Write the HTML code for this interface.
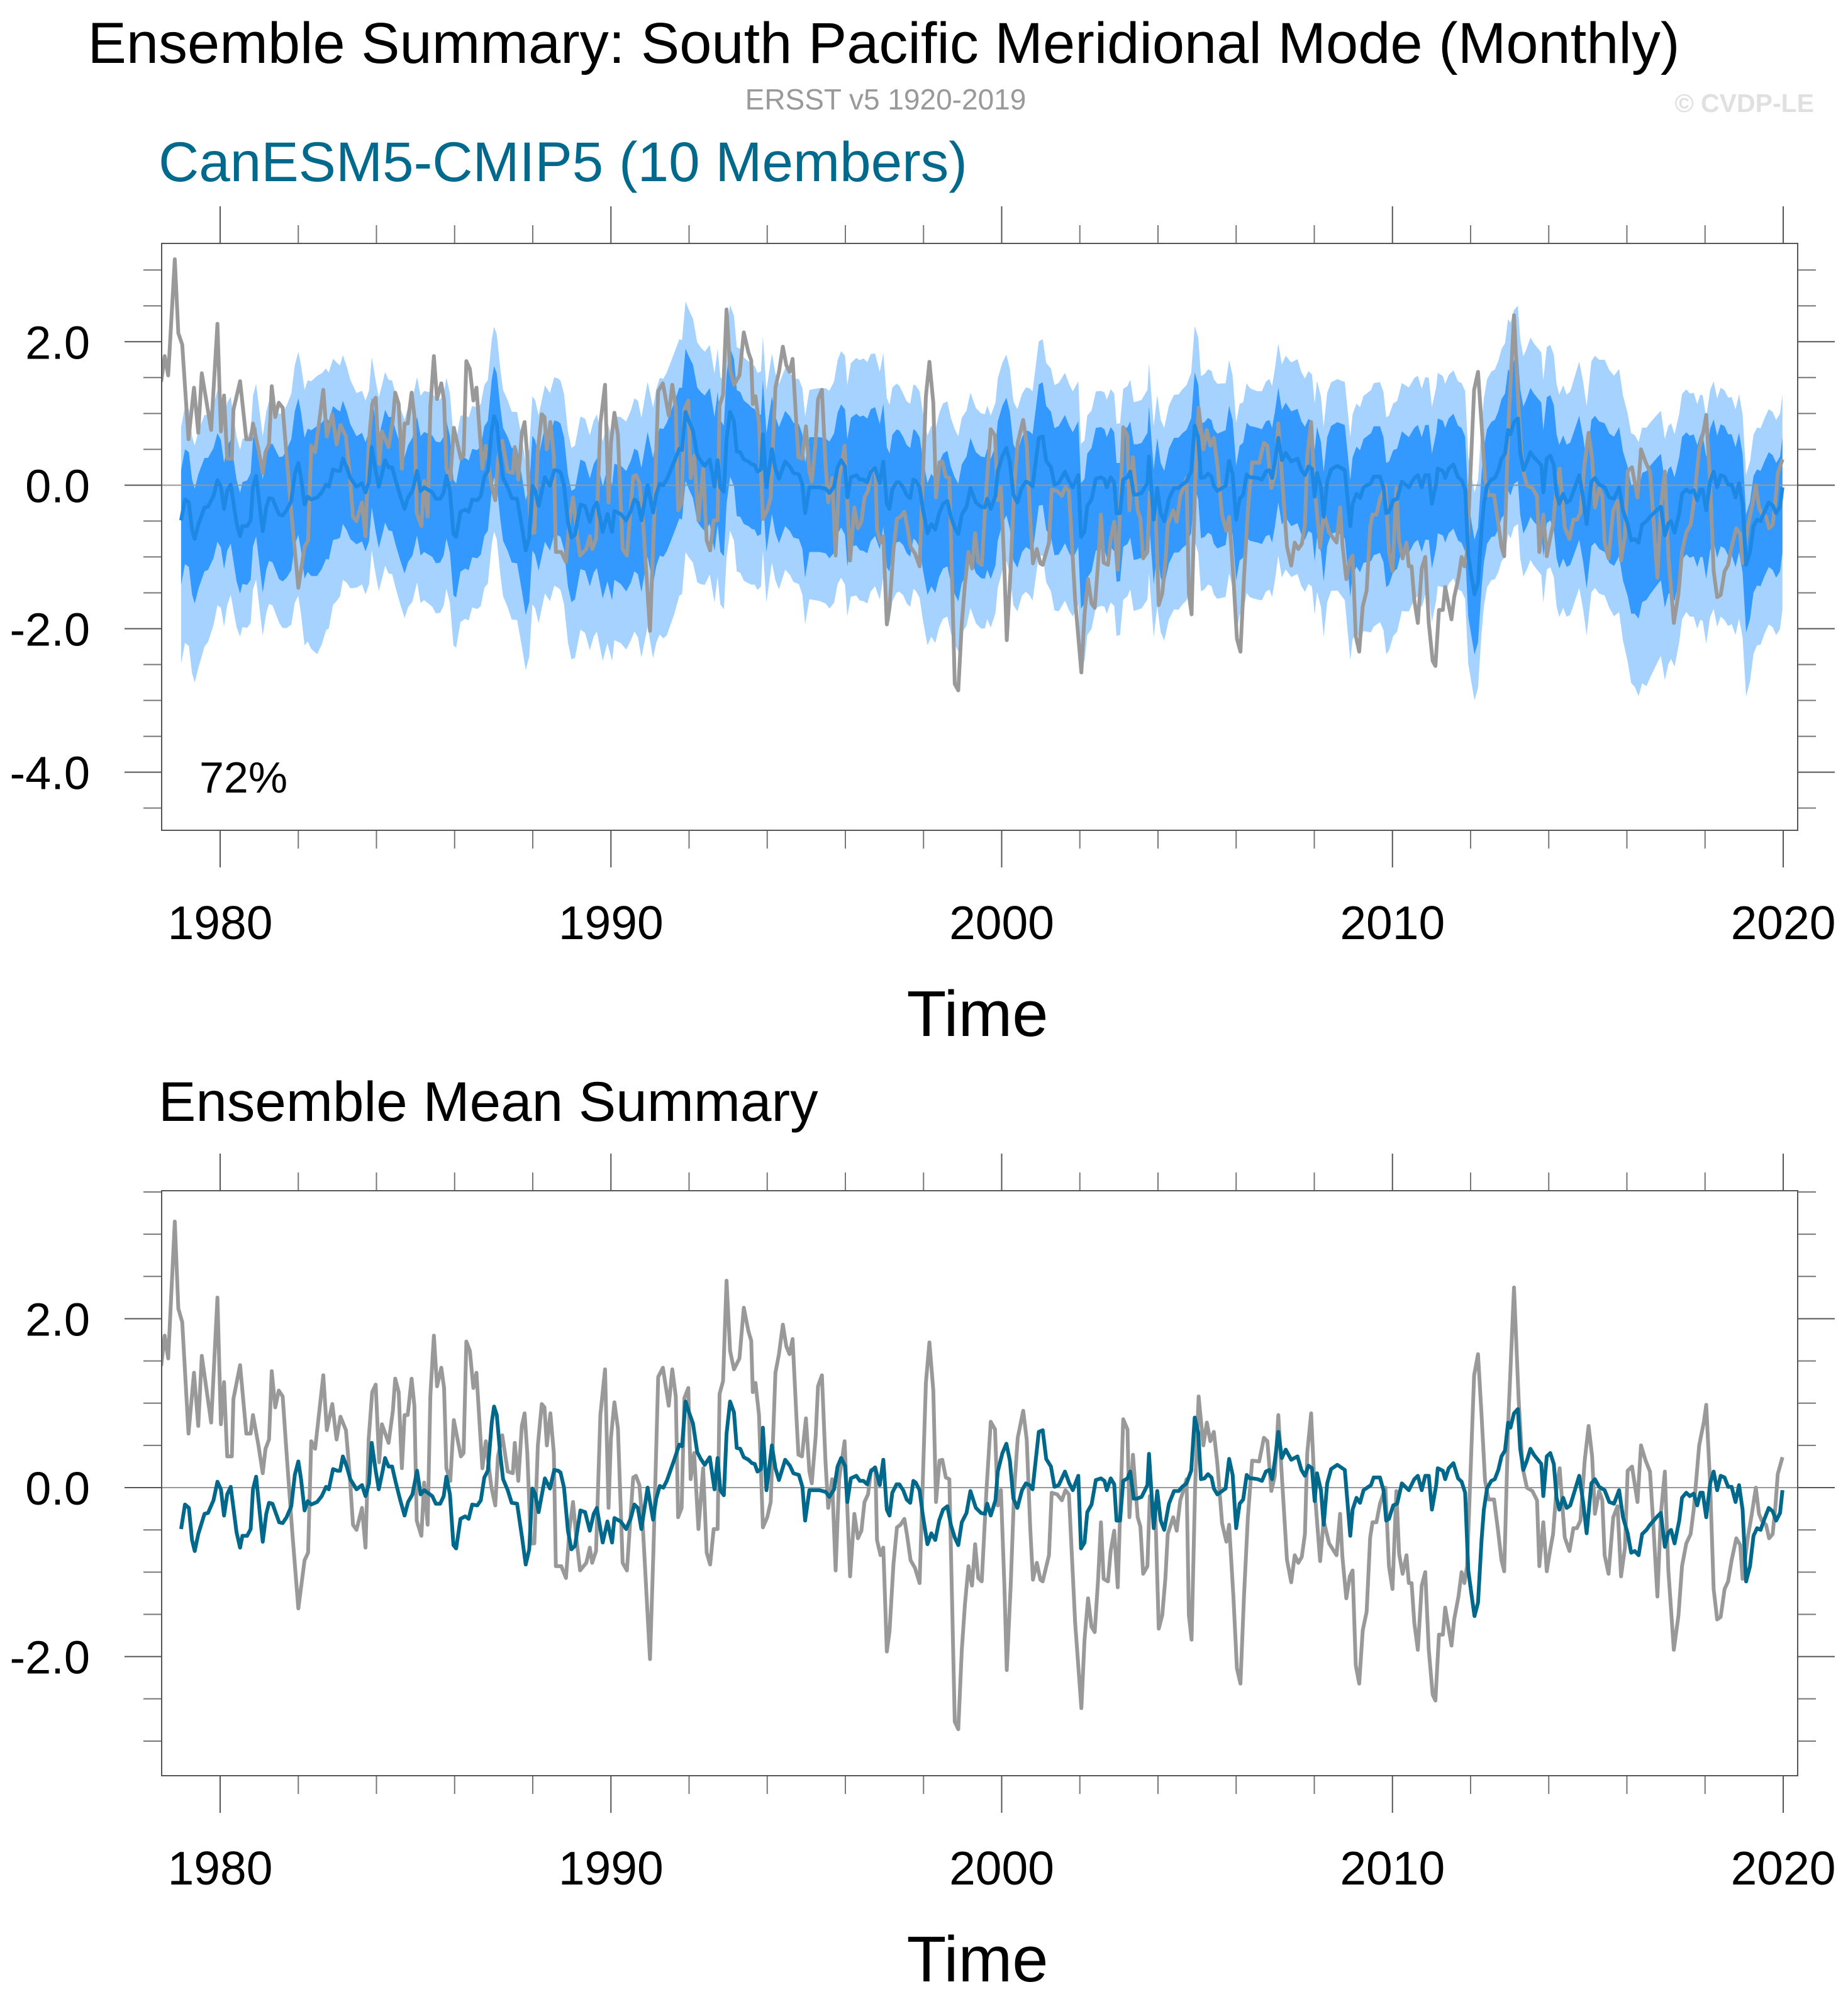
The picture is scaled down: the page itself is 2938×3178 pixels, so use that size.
<!DOCTYPE html>
<html><head><meta charset="utf-8"><title>Ensemble Summary: South Pacific Meridional Mode</title>
<style>
html,body{margin:0;padding:0;background:#fff;}
body{width:2938px;height:3173px;overflow:hidden;font-family:"Liberation Sans",Arial,sans-serif;}
svg text{font-family:"Liberation Sans",Arial,sans-serif;}
</style></head>
<body>
<svg id="chart" width="2938" height="3173" viewBox="0 0 2938 3173" xmlns="http://www.w3.org/2000/svg">
<rect x="0" y="0" width="2938" height="3173" fill="#fff"/>
<text x="1405" y="100" font-size="92" text-anchor="middle" fill="#000">Ensemble Summary: South Pacific Meridional Mode (Monthly)</text>
<text x="1408" y="174" font-size="46" text-anchor="middle" fill="#999">ERSST v5 1920-2019</text>
<text x="2884" y="178" font-size="41" font-weight="bold" text-anchor="end" fill="#e0e0e0">© CVDP-LE</text>
<text x="252" y="288" font-size="89" fill="#00698c">CanESM5-CMIP5 (10 Members)</text>
<text x="252" y="1782" font-size="89" fill="#000">Ensemble Mean Summary</text>
<g id="top"></g>
<g id="bot"></g>
</svg>
<script>
// ---- observed (ERSST) SPMM index ----
const obsYears = [1978.49,1978.58,1978.67,1978.84,1978.93,1979.03,1979.19,1979.33,1979.44,1979.53,1979.77,1979.93,1980.02,1980.1,1980.18,1980.3,1980.34,1980.51,1980.67,1980.78,1980.84,1980.98,1981.09,1981.16,1981.25,1981.32,1981.41,1981.5,1981.6,1981.7,1981.84,1982.0,1982.16,1982.25,1982.33,1982.43,1982.64,1982.73,1982.87,1982.98,1983.08,1983.22,1983.31,1983.4,1983.49,1983.63,1983.72,1983.8,1983.89,1983.98,1984.07,1984.14,1984.31,1984.42,1984.48,1984.57,1984.65,1984.72,1984.8,1984.9,1984.97,1985.03,1985.15,1985.22,1985.31,1985.38,1985.47,1985.55,1985.66,1985.73,1985.79,1985.89,1985.98,1986.16,1986.23,1986.3,1986.39,1986.48,1986.56,1986.65,1986.71,1986.8,1986.94,1987.04,1987.11,1987.22,1987.36,1987.49,1987.54,1987.63,1987.72,1987.79,1987.86,1987.95,1988.04,1988.13,1988.23,1988.3,1988.36,1988.45,1988.54,1988.59,1988.73,1988.85,1988.94,1989.03,1989.12,1989.21,1989.37,1989.46,1989.52,1989.62,1989.73,1989.85,1989.94,1990.0,1990.09,1990.18,1990.3,1990.41,1990.48,1990.57,1990.64,1990.73,1990.82,1991.0,1991.09,1991.21,1991.33,1991.48,1991.57,1991.66,1991.72,1991.81,1991.88,1991.98,1992.04,1992.13,1992.24,1992.36,1992.45,1992.54,1992.63,
1992.73,1992.78,1992.87,1992.96,1993.05,1993.15,1993.29,1993.4,1993.52,1993.59,1993.63,1993.7,1993.79,1993.89,1994.0,1994.09,1994.21,1994.3,1994.4,1994.49,1994.57,1994.65,1994.75,1994.8,1994.89,1994.99,1995.08,1995.14,1995.24,1995.3,1995.4,1995.49,1995.56,1995.66,1995.75,1995.84,1995.98,1996.12,1996.23,1996.32,1996.41,1996.49,1996.58,1996.66,1996.77,1996.81,1996.9,1996.97,1997.06,1997.13,1997.23,1997.32,1997.41,1997.51,1997.58,1997.67,1997.78,1997.9,1998.06,1998.15,1998.25,1998.32,1998.41,1998.48,1998.57,1998.66,1998.8,1998.89,1998.98,1999.06,1999.15,1999.24,1999.32,1999.4,1999.49,1999.61,1999.72,1999.83,1999.9,1999.98,2000.07,2000.13,2000.23,2000.32,2000.41,2000.55,2000.64,2000.73,2000.8,2000.9,2000.99,2001.05,2001.21,2001.28,2001.42,2001.54,2001.63,2001.72,2001.88,2002.04,2002.12,2002.21,2002.3,2002.38,2002.47,2002.54,2002.61,2002.72,2002.79,2002.88,2002.97,2003.11,2003.22,2003.27,2003.36,2003.48,2003.55,2003.62,2003.73,2003.79,2003.93,2004.02,2004.11,2004.19,2004.25,2004.39,2004.48,2004.57,2004.66,2004.73,2004.79,2004.86,2004.95,2005.04,2005.16,2005.25,2005.34,2005.43,2005.52,2005.64,2005.75,2005.82,2005.93,2006.02,2006.11,2006.2,2006.3,2006.41,
2006.59,2006.71,2006.8,2006.9,2006.99,2007.08,2007.17,2007.3,2007.41,2007.5,2007.59,2007.68,2007.76,2007.82,2007.92,2008.01,2008.15,2008.24,2008.38,2008.57,2008.66,2008.72,2008.82,2008.91,2008.98,2009.06,2009.15,2009.24,2009.34,2009.43,2009.49,2009.59,2009.68,2009.82,2009.91,2010.0,2010.1,2010.17,2010.26,2010.36,2010.42,2010.49,2010.56,2010.65,2010.75,2010.84,2010.93,2011.03,2011.1,2011.19,2011.29,2011.35,2011.44,2011.51,2011.58,2011.69,2011.77,2011.84,2011.91,2012.03,2012.09,2012.19,2012.28,2012.37,2012.46,2012.6,2012.7,2012.79,2012.86,2012.97,2013.11,2013.23,2013.33,2013.44,2013.58,2013.7,2013.76,2013.86,2013.95,2014.04,2014.11,2014.2,2014.28,2014.41,2014.53,2014.63,2014.72,2014.81,2014.92,2015.02,2015.11,2015.18,2015.29,2015.37,2015.43,2015.53,2015.65,2015.76,2015.85,2015.95,2016.02,2016.13,2016.27,2016.36,2016.48,2016.59,2016.67,2016.78,2016.87,2016.97,2017.06,2017.2,2017.32,2017.41,2017.52,2017.63,2017.71,2017.85,2017.97,2018.03,2018.13,2018.22,2018.31,2018.4,2018.5,2018.59,2018.68,2018.8,2018.9,2018.96,2019.1,2019.19,2019.3,2019.38,2019.45,2019.56,2019.64,2019.73,2019.8,2019.86,2019.98];
const obsValues = [1.44,1.8,1.53,3.15,2.12,1.96,0.64,1.36,0.73,1.56,0.77,2.25,0.75,1.25,0.37,0.37,1.05,1.45,0.64,0.64,0.86,0.5,0.17,0.46,0.57,1.38,0.95,1.15,1.08,0.41,-0.49,-1.43,-0.86,-0.77,0.55,0.46,1.33,0.68,0.99,0.57,0.84,0.68,0.19,-0.44,-0.5,-0.24,-0.71,0.57,1.13,1.22,0.3,0.75,0.53,0.91,1.29,1.13,0.23,0.86,0.86,1.29,0.97,-0.39,-0.57,0.06,-0.44,1.09,1.8,1.2,1.42,1.18,0.23,0.08,0.8,0.37,0.41,1.73,1.62,1.18,1.36,0.68,0.23,0.55,0.01,-0.21,0.37,0.62,0.19,0.17,0.53,0.08,0.73,0.88,0.41,-0.66,-0.66,0.5,0.99,0.95,0.5,0.88,0.41,-0.93,-0.93,-1.07,-0.49,-0.17,-0.62,-0.98,-0.89,-0.71,-0.89,-0.75,0.86,1.4,-0.24,0.59,1.01,0.7,-0.89,-0.98,-0.49,0.12,0.14,0.03,-0.49,-2.03,-0.71,1.31,1.42,0.97,1.4,1.08,-0.35,-0.24,1.06,1.18,0.1,0.41,-0.49,0.23,-0.77,-0.91,-0.49,
-0.49,1.11,1.26,2.45,1.62,1.4,1.53,2.13,1.85,1.74,1.13,1.24,0.86,-0.47,-0.35,-0.17,1.36,1.58,1.93,1.67,1.58,1.76,0.82,0.39,0.37,0.82,0.19,0.05,0.61,1.2,1.33,0.32,-0.24,0.1,-0.98,0.1,0.55,-1.05,-0.31,-0.6,-0.51,-0.17,-0.08,0.21,0.23,-0.62,-0.8,-0.71,-1.94,-1.7,-0.91,-0.47,-0.44,-0.37,-0.57,-0.86,-0.95,-1.13,1.24,1.72,1.15,-0.17,0.32,0.33,0.12,0.1,-2.77,-2.86,-1.92,-1.38,-0.93,-1.16,-0.67,-1.07,-1.11,-0.03,0.78,0.69,-0.21,-0.03,-1.16,-2.16,-1.16,-0.03,0.59,0.91,0.57,-0.48,-1.09,-0.89,-1.09,-1.11,-0.8,-0.06,-0.08,-0.15,-0.03,-0.08,-1.6,-2.61,-1.8,-1.31,-1.65,-1.71,-1.07,-0.41,-1.08,-1.11,-0.75,-0.51,-1.18,0.81,0.69,-0.35,0.39,-0.35,-0.46,-1.02,-0.93,-0.1,-0.26,-1.67,-1.51,-1.07,-0.55,-0.35,-0.51,-0.15,-0.02,0.1,-1.51,-1.8,0.0,1.08,0.5,0.77,0.55,0.66,0.28,-0.42,-0.64,-0.44,-1.29,-2.14,-2.32,-1.29,-0.35,0.32,
0.31,0.59,0.55,-0.04,0.14,0.86,0.14,-0.85,-1.12,-0.8,-0.89,-0.82,-0.55,0.41,0.88,-0.04,-0.87,-0.39,-0.66,-0.8,-0.31,-0.82,-1.31,-1.05,-0.98,-2.1,-2.32,-1.69,-1.47,-0.59,-0.41,-0.41,-0.19,0.0,-0.93,-1.2,-0.04,-0.78,-1.02,-0.8,-1.13,-1.13,-1.6,-1.92,-1.16,-1.0,-1.92,-2.45,-2.52,-1.74,-1.74,-1.42,-1.67,-1.87,-1.56,-1.29,-1.0,-1.13,-0.93,0.59,1.33,1.58,0.86,0.08,-0.14,-0.14,-0.5,-0.86,-0.99,0.86,2.37,1.04,0.24,0.0,-0.04,-0.15,-0.93,-0.41,-0.99,-0.73,-0.55,0.0,0.23,-0.59,-0.75,-0.48,-0.48,-0.39,0.32,0.73,0.37,-0.31,-0.04,-0.15,-0.8,-1.02,-0.35,-0.22,-1.05,-0.71,0.2,0.25,-0.17,0.5,0.32,0.19,-0.39,-1.29,-0.31,0.19,-0.98,-1.92,-1.51,-0.93,-0.66,-0.55,-0.26,0.5,0.78,0.98,0.05,-1.2,-1.56,-1.53,-1.2,-1.11,-0.86,-0.6,-0.68,-1.08,-0.57,-0.33,0.0,-0.31,-0.39,-0.44,-0.6,-0.55,-0.22,0.16,0.36];

// ---- CanESM5-CMIP5 ensemble mean ----
const meanYears = [1979.0,1979.1,1979.2,1979.28,1979.35,1979.44,1979.6,1979.69,1979.83,1979.93,1980.02,1980.1,1980.18,1980.27,1980.42,1980.51,1980.57,1980.69,1980.78,1980.84,1980.92,1981.09,1981.18,1981.25,1981.34,1981.51,1981.6,1981.7,1981.82,1981.91,1982.0,1982.07,1982.16,1982.24,1982.33,1982.48,1982.6,1982.71,1982.78,1982.89,1983.0,1983.07,1983.14,1983.24,1983.33,1983.49,1983.63,1983.72,1983.81,1983.88,1983.98,1984.06,1984.16,1984.22,1984.31,1984.4,1984.49,1984.61,1984.72,1984.81,1984.92,1985.04,1985.13,1985.22,1985.43,1985.52,1985.63,1985.72,1985.79,1985.88,1985.97,1986.04,1986.15,1986.27,1986.36,1986.45,1986.58,1986.67,1986.76,1986.85,1986.95,1987.01,1987.08,1987.17,1987.24,1987.36,1987.46,1987.6,1987.72,1987.82,1987.91,1987.99,1988.06,1988.15,1988.31,1988.44,1988.55,1988.65,1988.71,1988.8,1988.9,1988.99,1989.08,1989.22,1989.34,1989.46,1989.56,1989.64,1989.79,1989.91,1990.03,1990.09,1990.25,1990.39,1990.51,1990.6,1990.69,1990.78,1990.86,1990.94,1991.02,1991.08,1991.16,1991.25,1991.34,1991.43,1991.62,1991.75,1991.82,1991.91,1992.0,1992.1,1992.21,1992.3,1992.4,1992.53,1992.65,
1992.73,1992.8,1992.89,1992.96,1993.05,1993.15,1993.22,1993.31,1993.4,1993.52,1993.61,1993.68,1993.75,1993.84,1993.89,1993.98,1994.12,1994.21,1994.3,1994.46,1994.58,1994.67,1994.81,1994.9,1994.97,1995.08,1995.22,1995.34,1995.5,1995.59,1995.71,1995.8,1995.89,1995.99,1996.05,1996.14,1996.28,1996.37,1996.46,1996.56,1996.65,1996.76,1996.88,1996.97,1997.06,1997.13,1997.2,1997.31,1997.38,1997.48,1997.57,1997.66,1997.74,1997.8,1997.9,1997.98,1998.1,1998.2,1998.3,1998.4,1998.5,1998.61,1998.7,1998.8,1998.89,1998.98,1999.1,1999.2,1999.34,1999.47,1999.57,1999.63,1999.72,1999.84,1999.9,2000.02,2000.12,2000.21,2000.3,2000.4,2000.52,2000.62,2000.71,2000.79,2000.95,2001.05,2001.14,2001.26,2001.35,2001.46,2001.62,2001.73,2001.82,2001.96,2002.03,2002.12,2002.19,2002.3,2002.41,2002.54,2002.63,2002.69,2002.79,2002.88,2002.94,2003.03,2003.11,2003.22,2003.29,2003.38,2003.46,2003.58,2003.73,2003.77,2003.89,2003.98,2004.07,2004.16,2004.28,2004.41,2004.53,2004.62,2004.73,2004.85,2004.94,2005.03,2005.1,2005.19,2005.28,2005.37,2005.43,2005.52,2005.64,2005.73,2005.82,2005.91,2006.0,2006.09,2006.18,2006.27,2006.35,2006.42,
2006.55,2006.66,2006.76,2006.85,2006.92,2006.99,2007.08,2007.17,2007.27,2007.41,2007.57,2007.67,2007.76,2007.85,2007.94,2008.01,2008.07,2008.17,2008.24,2008.33,2008.43,2008.59,2008.78,2008.92,2008.98,2009.08,2009.17,2009.26,2009.45,2009.52,2009.68,2009.77,2009.84,2009.91,2010.02,2010.12,2010.24,2010.42,2010.56,2010.65,2010.75,2010.84,2010.93,2011.01,2011.12,2011.16,2011.29,2011.35,2011.44,2011.56,2011.68,2011.77,2011.86,2011.94,2012.03,2012.1,2012.19,2012.28,2012.34,2012.42,2012.53,2012.62,2012.71,2012.79,2012.88,2012.96,2013.02,2013.11,2013.21,2013.27,2013.35,2013.44,2013.53,2013.62,2013.81,2013.86,2013.95,2014.04,2014.13,2014.2,2014.27,2014.37,2014.46,2014.55,2014.65,2014.78,2014.88,2014.97,2015.09,2015.18,2015.29,2015.43,2015.55,2015.67,2015.8,2015.9,2016.02,2016.11,2016.2,2016.3,2016.39,2016.5,2016.59,2016.78,2016.87,2016.97,2017.06,2017.13,2017.22,2017.34,2017.41,2017.52,2017.61,2017.71,2017.8,2017.88,2017.94,2018.03,2018.13,2018.22,2018.31,2018.4,2018.5,2018.59,2018.68,2018.78,2018.87,2018.96,2019.05,2019.15,2019.24,2019.33,2019.42,2019.52,2019.63,2019.73,2019.82,2019.92,2019.98];
const meanValues = [-0.49,-0.2,-0.24,-0.62,-0.75,-0.55,-0.31,-0.3,-0.15,0.07,-0.02,-0.33,-0.08,0.01,-0.53,-0.71,-0.57,-0.57,-0.49,-0.02,0.13,-0.64,-0.31,-0.18,-0.19,-0.41,-0.42,-0.35,-0.22,0.15,0.31,0.1,-0.27,-0.16,-0.2,-0.17,-0.1,0.01,-0.02,0.22,0.2,0.2,0.37,0.25,0.1,-0.02,0.03,-0.1,0.05,0.53,0.2,-0.02,0.2,0.35,0.25,0.25,0.07,-0.15,-0.33,-0.17,-0.08,0.2,-0.08,-0.03,-0.1,-0.19,-0.19,-0.1,0.13,-0.08,-0.68,-0.72,-0.37,-0.34,-0.37,-0.2,-0.21,-0.15,0.12,0.2,0.77,0.96,0.86,0.39,0.1,-0.03,-0.18,-0.19,-0.57,-0.91,-0.73,-0.01,-0.07,-0.29,0.11,-0.01,0.21,0.2,0.18,0.0,-0.51,-0.73,-0.69,-0.27,-0.29,-0.51,-0.31,-0.24,-0.65,-0.4,-0.65,-0.36,-0.4,-0.49,-0.36,-0.2,-0.24,-0.49,-0.24,0.0,-0.22,-0.38,-0.13,0.02,0.0,0.08,0.33,0.51,0.49,1.02,0.89,0.76,0.42,0.34,0.27,0.36,-0.02,
0.35,-0.03,-0.09,0.64,1.02,0.89,0.47,0.46,0.36,0.33,0.29,0.28,0.19,0.22,0.71,-0.03,0.5,0.23,0.09,0.33,0.26,0.17,0.15,0.01,-0.39,-0.03,-0.03,-0.03,-0.05,-0.11,-0.02,0.25,0.35,0.26,-0.17,0.11,0.14,0.08,0.08,0.04,0.19,0.24,0.03,0.33,-0.26,-0.33,-0.06,0.04,0.04,-0.03,-0.14,-0.18,0.08,0.06,-0.03,-0.32,-0.67,-0.54,-0.62,-0.39,-0.26,-0.22,-0.44,-0.59,-0.68,-0.41,-0.3,-0.04,-0.24,-0.3,-0.31,-0.19,-0.33,-0.15,0.19,0.41,0.52,0.32,-0.13,-0.24,-0.03,0.05,0.03,-0.02,0.66,0.68,0.34,0.25,0.01,0.03,0.19,0.05,-0.03,0.14,-0.72,-0.65,-0.29,-0.2,0.09,0.11,0.08,-0.03,0.11,0.04,-0.39,-0.39,0.08,0.11,0.19,-0.13,-0.13,-0.11,0.03,0.4,-0.48,-0.04,-0.39,-0.5,-0.19,-0.04,-0.04,0.01,0.05,0.2,0.83,0.65,0.1,0.11,0.16,0.12,-0.01,-0.08,-0.04,-0.01,0.34,0.15,-0.48,-0.19,-0.14,0.15,0.11,0.11,
0.1,0.08,0.19,0.21,0.1,0.32,0.66,0.35,0.45,0.33,0.37,0.21,0.14,0.26,0.23,-0.16,0.17,-0.03,-0.44,0.05,0.22,0.27,0.21,-0.57,-0.26,-0.12,-0.18,-0.03,0.03,0.12,0.12,-0.03,-0.39,-0.37,-0.21,-0.19,0.05,-0.03,0.1,0.14,-0.03,0.14,0.14,-0.26,0.03,0.23,0.2,0.1,0.23,0.29,0.11,0.07,-0.06,-0.98,-1.29,-1.52,-1.36,-0.62,-0.26,-0.01,0.08,0.1,0.21,0.37,0.44,0.77,0.71,0.88,0.93,0.46,0.21,0.32,0.46,0.39,0.28,-0.1,0.37,0.41,0.28,-0.12,-0.26,-0.12,-0.24,-0.21,-0.06,0.14,-0.17,-0.54,0.05,0.1,0.01,-0.03,-0.17,-0.19,-0.03,-0.35,-0.54,-0.77,-0.75,-0.8,-0.55,-0.5,-0.44,-0.34,-0.3,-0.7,-0.53,-0.5,-0.66,-0.39,-0.12,-0.06,-0.1,-0.07,-0.21,-0.06,-0.06,-0.35,0.05,0.19,-0.03,0.14,0.12,0.01,0.01,-0.17,0.03,-0.26,-1.11,-0.93,-0.57,-0.48,-0.5,-0.37,-0.24,-0.28,-0.39,-0.3,-0.03];

// ---- ensemble spread (annual, offsets from ensemble mean) ----
const spreadYears = [1979,1980,1981,1982,1983,1984,1985,1986,1987,1988,1989,1990,1991,1992,1993,1994,1995,1996,1997,1998,1999,2000,2001,2002,2003,2004,2005,2006,2007,2008,2009,2010,2011,2012,2013,2014,2015,2016,2017,2018,2019];
const maxAbove = [1.3,1.2,1.4,1.7,1.3,1.2,1.4,1.3,1.2,1.3,1.2,1.4,1.5,1.6,1.4,1.3,1.4,1.7,1.3,1.4,1.3,1.3,1.4,1.2,1.3,1.3,1.5,1.2,1.4,1.2,1.3,1.4,1.3,1.5,1.6,1.5,1.8,1.3,1.4,1.2,1.3];
const minBelow = [2.0,1.4,1.5,2.2,1.4,1.5,1.6,1.5,1.7,1.6,1.8,1.8,2.2,1.6,1.7,1.5,1.6,1.7,1.5,1.6,1.7,1.5,1.8,1.8,1.6,1.7,1.5,1.7,1.6,1.7,2.1,1.7,1.6,1.4,1.5,1.6,1.5,2.3,1.7,2.0,1.7];
const iqrAbove = [0.7,0.6,0.8,1.0,0.7,0.7,0.8,0.7,0.7,0.7,0.6,0.7,0.8,1.0,0.8,0.7,0.7,0.9,0.7,0.7,0.7,0.7,0.8,0.7,0.7,0.7,0.8,0.7,0.7,0.6,0.7,0.7,0.7,0.8,0.9,0.8,0.9,0.7,0.8,0.7,0.7];
const iqrBelow = [0.9,0.8,0.9,1.1,0.8,0.9,0.9,0.8,0.9,0.9,0.9,1.0,1.0,0.9,0.9,0.9,0.9,1.0,0.8,0.9,1.0,0.9,1.0,1.0,0.9,0.9,0.8,0.9,0.9,0.9,1.1,0.9,0.9,0.8,0.9,0.9,0.9,1.1,0.9,1.0,0.9];

const xTicks = [1980,1990,2000,2010,2020];
const xMinor = [1982,1984,1986,1988,1992,1994,1996,1998,2002,2004,2006,2008,2012,2014,2016,2018];
const yTicksTop = [2.0,0.0,-2.0,-4.0];
const yTicksBot = [2.0,0.0,-2.0];
const pctLabel = "72%";

const NS = "http://www.w3.org/2000/svg";
const L = 257, R = 2858;
function xS(yr){ return 350 + (yr - 1980) * 62.125; }
const topP = {g:document.getElementById('top'), y0:387, y1:1320, vmax:3.37, vmin:-4.81, key:'top'};
const botP = {g:document.getElementById('bot'), y0:1893, y1:2823, vmax:3.515, vmin:-3.41, key:'bottom'};
function yS(p, v){ return p.y0 + (p.vmax - v) / (p.vmax - p.vmin) * (p.y1 - p.y0); }
function mk(tag, attrs, parent){
  const el = document.createElementNS(NS, tag);
  for (const k in attrs) el.setAttribute(k, attrs[k]);
  parent.appendChild(el);
  return el;
}
function interp(xs, ys, t){
  if (t <= xs[0]) return ys[0];
  if (t >= xs[xs.length-1]) return ys[ys.length-1];
  for (let i=1;i<xs.length;i++){ if (t <= xs[i]) { const f=(t-xs[i-1])/(xs[i]-xs[i-1]); return ys[i-1]+f*(ys[i]-ys[i-1]); } }
}
function sy(t){ return t + 0.5; }

function axes(p){
  const g = p.g;
  const clipId = 'clip-' + p.key;
  const defs = mk('defs', {}, g);
  const cp = mk('clipPath', {id: clipId}, defs);
  mk('rect', {x:L, y:p.y0, width:R-L, height:p.y1-p.y0}, cp);
  xTicks.forEach(t=>{
    const x = xS(t);
    const a = mk('line', {x1:x, x2:x, y1:p.y0-59, y2:p.y0, stroke:'#555', 'stroke-width':2}, g);
    
    
    const b = mk('line', {x1:x, x2:x, y1:p.y1, y2:p.y1+59, stroke:'#555', 'stroke-width':2}, g);
    
    
    const lab = mk('text', {x:x, y:p.y1+173, 'font-size':75, 'text-anchor':'middle', fill:'#000'}, g);
    lab.textContent = String(t);
    
    
  });
  xMinor.forEach(t=>{
    const x = xS(t);
    const a = mk('line', {x1:x, x2:x, y1:p.y0-29, y2:p.y0, stroke:'#777', 'stroke-width':2}, g);
    
    
    const b = mk('line', {x1:x, x2:x, y1:p.y1, y2:p.y1+29, stroke:'#777', 'stroke-width':2}, g);
    
    
  });
  const ticks = p.key==='top' ? yTicksTop : yTicksBot;
  for (let v = Math.ceil(p.vmin*2)/2; v <= p.vmax; v += 0.5){
    const y = yS(p, v);
    const major = Math.abs(v/2 - Math.round(v/2)) < 1e-6;
    const len = major ? 59 : 29;
    const a = mk('line', {x1:L-len, x2:L, y1:y, y2:y, stroke:major?'#555':'#777', 'stroke-width':2}, g);
    
    
    const b = mk('line', {x1:R, x2:R+len, y1:y, y2:y, stroke:major?'#555':'#777', 'stroke-width':2}, g);
    
    
  }
  ticks.forEach(v=>{
    const lab = mk('text', {x:143, y:yS(p,v)+27, 'font-size':74, 'text-anchor':'end', fill:'#000'}, g);
    lab.textContent = v.toFixed(1);
    
    
  });
  const tl = mk('text', {x:1554, y:p.y1+327, 'font-size':103, 'text-anchor':'middle', fill:'#000'}, g);
  tl.textContent = 'Time';
  
  
  return clipId;
}
function linePath(p, xs, ys){
  let d = '';
  for (let i=0;i<xs.length;i++) d += (i?'L':'M') + xS(xs[i]).toFixed(1) + ',' + yS(p, ys[i]).toFixed(1);
  return d;
}
function bandPath(p, above, below){
  let up = '', dn = [];
  for (let i=0;i<meanYears.length;i++){
    const t = meanYears[i], m = meanValues[i];
    const a = interp(spreadYears.map(sy), above, t), b = interp(spreadYears.map(sy), below, t);
    up += (i?'L':'M') + xS(t).toFixed(1) + ',' + yS(p, m + a).toFixed(1);
    dn.push('L' + xS(t).toFixed(1) + ',' + yS(p, m - b).toFixed(1));
  }
  return up + dn.reverse().join('') + 'Z';
}

(function(){
  const p = topP, g = p.g;
  const clipId = axes(p);
  const cg = mk('g', {'clip-path':'url(#'+clipId+')'}, g);
  const outer = mk('path', {d:bandPath(p, maxAbove, minBelow), fill:'#a6d2ff', stroke:'none'}, cg);
  
  
  const inner = mk('path', {d:bandPath(p, iqrAbove, iqrBelow), fill:'#3399ff', stroke:'none'}, cg);
  
  
  const z = mk('line', {x1:L, x2:R, y1:yS(p,0), y2:yS(p,0), stroke:'#999', 'stroke-width':2}, cg);
  
  
  const obs = mk('path', {d:linePath(p, obsYears, obsValues), fill:'none', stroke:'#999', 'stroke-width':6, 'stroke-linejoin':'round'}, cg);
  
  
  const mn = mk('path', {d:linePath(p, meanYears, meanValues), fill:'none', stroke:'#1e88e5', 'stroke-width':6, 'stroke-linejoin':'round'}, cg);
  
  
  const box = mk('rect', {x:L, y:p.y0, width:R-L, height:p.y1-p.y0, fill:'none', stroke:'#555', 'stroke-width':2}, g);
  
  
  const pc = mk('text', {x:317, y:1260, 'font-size':70, fill:'#000'}, g);
  pc.textContent = pctLabel;
  
  
})();

(function(){
  const p = botP, g = p.g;
  const clipId = axes(p);
  const cg = mk('g', {'clip-path':'url(#'+clipId+')'}, g);
  const z = mk('line', {x1:L, x2:R, y1:yS(p,0), y2:yS(p,0), stroke:'#999', 'stroke-width':2}, cg);
  
  
  const obs = mk('path', {d:linePath(p, obsYears, obsValues), fill:'none', stroke:'#999', 'stroke-width':6, 'stroke-linejoin':'round'}, cg);
  
  
  const mn = mk('path', {d:linePath(p, meanYears, meanValues), fill:'none', stroke:'#00688b', 'stroke-width':6, 'stroke-linejoin':'round'}, cg);
  
  
  const box = mk('rect', {x:L, y:p.y0, width:R-L, height:p.y1-p.y0, fill:'none', stroke:'#555', 'stroke-width':2}, g);
  
  
})();
</script>
</body></html>
